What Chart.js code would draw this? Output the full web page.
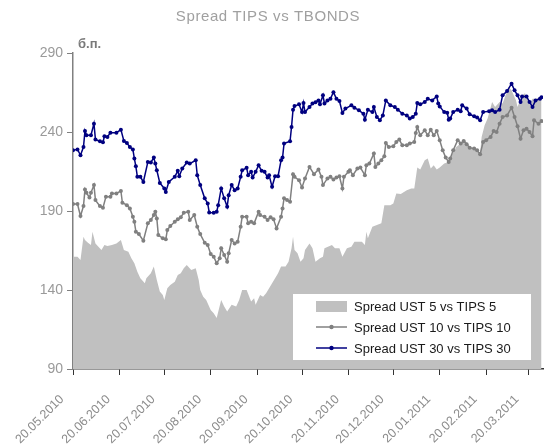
<!DOCTYPE html>
<html lang="ru">
<head>
    <meta charset="UTF-8">
    <title>Spread TIPS vs TBONDS</title>
    <script src="https://cdn.jsdelivr.net/npm/chart.js"></script>
    <style>
        html, body { margin: 0; padding: 0; background: #ffffff; }
        #wrap { width: 547px; height: 446px; position: relative; }
    </style>
</head>
<body>
<div id="wrap"><canvas id="chart"></canvas></div>

<script>
    const chartTitle = 'Spread TIPS vs TBONDS';
    const unitLabel = 'б.п.';
    const seriesNames = ['Spread UST 5 vs TIPS 5', 'Spread UST 10 vs TIPS 10', 'Spread UST 30 vs TIPS 30'];
    const tickLabels = ['20.05.2010', '20.06.2010', '20.07.2010', '20.08.2010', '20.09.2010', '20.10.2010',
                        '20.11.2010', '20.12.2010', '20.01.2011', '20.02.2011', '20.03.2011'];
    const yTicks = [90, 140, 190, 240, 290];

    // x = days since 20.05.2010
    const ust5Days = [0,3,5,6,7,8,10,12,13,15, 17,19,21,23,26,29,32,34,37,39,
        41,43,45,48,49,52,54,56,58,60, 61,63,65,68,70,72,74,76,79,82,
        84,85,87,89,92,94,96,99,101,103, 106,109,111,113,116,119,121,122,125,127,
        129,131,135,137,139,142,144,146,147,148, 150,152,154,155,158,160,162,165,167,168,
        173,175,178,180,183,186,188,193,195,196, 197,200,203,206,208,212,214,216,219,223,
        226,228,230,232,235,237,239,241,243,245, 248,251,253,256,259,262,265,269,272,273,
        275,277,280,282,285,287,289,291,293,296, 297,300,302,305,307,309,313];
    const ust5Values = [161.1,161.1,159,166.4,173.7,171.6,169.9,168.5,176.9,169.5,
        167.4,165.3,168.5,167.8,168.5,169.5,171.6,165.3,164.2,160.1,
        156.9,151.6,147.4,144.3,147.4,150.6,154.8,146.4,139,136.9,
        133.7,141.1,143.2,145.3,149.5,150.6,153.8,155.8,152.7,153.8,
        146.4,140,135.8,133.7,127.4,125.3,122.2,133.7,129.5,126.4,
        130.6,129.5,133.7,140,140,132.7,134.8,130.6,136.9,135.8,
        138,141.1,147.4,150.6,154.8,154.8,157.9,166.4,173.7,165.3,
        163.2,157.9,160.1,165.3,169.5,166.4,157.9,160.1,161.1,166.4,
        168.5,166.4,166.4,161.1,166.4,167.4,170.6,170.6,168.5,176.9,
        172.7,180,181.1,182.2,193.7,193.7,194.8,201.1,200.7,203.2,
        204.3,204.3,217.5,216.3,222.1,223.2,216.9,219,216.3,217.5,
        220,221,225.3,230.5,232.7,234.8,230.5,228.4,226.4,236.9,
        244.2,248.5,259,255.8,259,258,263.2,268.4,266.4,260,
        255.8,263.2,264.6,258,261,261,262];

    const ust10Days = [0,3,5,7,8,9,11,12,14,15, 18,20,22,25,26,29,32,33,36,38,
        40,41,42,44,47,50,52,54,55,56, 57,60,62,63,65,68,70,72,74,77,
        78,81,83,85,88,90,92,94,96,98, 99,101,103,104,106,108,110,112,113,116,
        117,119,121,124,125,128,130,132,134,136, 139,140,141,143,145,147,148,151,153,155,
        158,161,164,166,167,170,172,174,176,178, 180,181,184,185,187,190,192,195,196,198,
        201,202,204,206,208,209,211,214,216,218, 220,223,225,228,229,230,232,235,237,239,
        241,243,245,247,249,251,252,254,257,259, 261,263,265,268,270,272,274,276,279,281,
        283,285,287,290,293,295,297,299,301,303, 305,307,308,311,313];
    const ust10Values = [194.4,194.4,186.8,193.1,203.6,201.5,198.6,201.5,206.4,196.9,
        193.1,192,199,199,201.1,201.1,202.7,195.2,193.7,191.6,
        186.3,183.2,176.9,175.4,171.2,182.2,184.3,187.4,189.5,185.3,
        174.8,172.7,172.1,177.9,180.5,183.2,184.7,186,188.9,189.5,
        184.3,187.4,180,175.4,169.9,168.5,162.8,161.1,156.9,160.1,
        166.4,162.2,157.9,163.2,171.6,169.5,170.6,180,186.3,186.3,
        182.2,183.2,182.2,189.5,187.4,186.3,184.3,186,184.7,179,
        186.3,191.6,198,196.9,195.8,213.3,211.6,209.5,204.9,210.6,
        217.9,213.3,216.3,211.6,206.4,210.6,211.6,210,211.2,212,
        204.3,211.6,214.8,215.8,212.7,216.9,217.5,212.7,219,220,
        226.4,217.9,220,222.1,224.7,233.1,230.5,231,233.7,235.2,
        231.6,231.6,232.7,233.7,239.4,243.2,237.9,241.1,237.9,241.5,
        237.9,240.6,234.8,228.4,223.8,221,223.2,228.4,234.8,232.7,
        234.3,232.2,230.1,229.5,228.4,225.9,233.7,234.8,236.9,240.6,
        240,245.3,249.5,250.5,255.4,249.5,243.6,235.8,241.1,242.1,
        240,237.3,247.4,245.3,246.9];

    const ust30Days = [0,3,5,7,8,9,12,14,15,18, 20,21,23,25,29,32,34,36,38,40,
        41,42,43,45,47,50,52,54,55,56, 58,61,62,64,68,70,71,73,76,78,
        82,83,85,88,90,91,94,96,97,99, 101,103,104,106,108,110,112,113,116,117,
        119,120,122,124,126,128,130,131,133,135, 137,139,140,141,145,146,147,148,151,153,
        154,155,158,160,162,164,165,167,168,170, 172,174,176,178,180,182,186,188,191,194,
        195,197,200,201,203,205,207,209,212,215, 217,220,223,225,227,229,230,232,235,237,
        240,243,244,245,248,250,251,252,254,257, 259,260,263,265,268,270,272,274,278,280,
        282,285,287,290,293,295,297,299,300,303, 305,307,309,312,313];
    const ust30Values = [228.4,229,225.3,230.5,240.6,237.9,238,245.3,235.2,234.1,
        233.5,237.3,236.9,239.6,239.6,241.5,234.3,233,230.5,229,
        223.2,218.3,211.6,211.6,208.4,221,220.7,223.8,220,215.8,
        207.8,204.3,202.1,208.4,211.6,215.4,212,216.9,220.7,220,
        222.1,212.7,206.4,198,194.8,189.1,188.9,189.5,193.7,204.3,
        198,192.7,200,206.4,203.2,204.3,211.6,215.8,217.3,212.7,
        214.8,211.2,214.8,219,215.4,214.8,211.2,212.7,205.3,212,
        212,222.1,223.8,232.7,234.1,243.2,254.1,256.4,257.5,252.6,
        258.3,252.6,255.8,258,258.9,260,257.5,263.2,258,260,
        261,265.2,261,259.6,252,254.8,256.9,255.4,253.7,251.6,
        247.8,254.1,252.6,255.8,249.5,247.4,250.5,260,256.9,255.8,
        254.1,251.6,250.5,248.5,249.5,251.6,258.3,257.5,259,261,
        260,262.5,258,256.2,252.6,252.2,247.8,248.5,252.6,254.1,
        253.2,256.9,254.8,251.2,249.9,249.1,247.4,252.6,253.2,253.7,
        252.6,254.1,263.2,265.9,270.6,266.4,263.2,259,262.5,262.5,
        259,255.8,260,261,262];

    const colors = ['#c0c0c0', '#808080', '#000080'];

    function dayOf(label) {
        const [d, m, y] = label.split('.').map(Number);
        return Math.round((Date.UTC(y, m - 1, d) - Date.UTC(2010, 4, 20)) / 86400000);
    }
    const tickDays = tickLabels.map(dayOf);
    const pts = (days, vals) => days.map((d, i) => ({ x: d, y: vals[i] }));

    // заголовок, "б.п." и легенда внутри графика
    const overlay = {
        id: 'overlay',
        afterDraw(chart) {
            const ctx = chart.ctx;
            ctx.save();
            ctx.fillStyle = '#a0a0a0';
            ctx.font = '15px Arial, "Liberation Sans", sans-serif';
            ctx.textAlign = 'center';
            ctx.textBaseline = 'middle';
            ctx.letterSpacing = '0.6px';
            ctx.fillText(chartTitle, 268, 17);
            ctx.letterSpacing = '0px';

            ctx.fillStyle = '#7a7a7a';
            ctx.font = 'bold 13px Arial, "Liberation Sans", sans-serif';
            ctx.textAlign = 'left';
            ctx.textBaseline = 'alphabetic';
            ctx.fillText(unitLabel, 78, 48);

            // legend box
            ctx.fillStyle = '#ffffff';
            ctx.fillRect(293, 294, 238, 66);
            ctx.font = '13px Arial, "Liberation Sans", sans-serif';
            ctx.textBaseline = 'middle';
            const rows = [306, 327, 348];
            seriesNames.forEach((name, i) => {
                const y = rows[i];
                if (i === 0) {
                    ctx.fillStyle = colors[0];
                    ctx.fillRect(316, y - 5, 31, 11);
                } else {
                    ctx.strokeStyle = colors[i];
                    ctx.lineWidth = 1.5;
                    ctx.beginPath();
                    ctx.moveTo(316, y);
                    ctx.lineTo(347, y);
                    ctx.stroke();
                    ctx.fillStyle = colors[i];
                    ctx.beginPath();
                    ctx.arc(331.5, y, 2.2, 0, Math.PI * 2);
                    ctx.fill();
                }
                ctx.fillStyle = '#1a1a1a';
                ctx.fillText(name, 354, y + 1);
            });
            ctx.restore();
        }
    };

    new Chart(document.getElementById('chart'), {
        type: 'line',
        data: {
            datasets: [
                {
                    label: seriesNames[0],
                    data: pts(ust5Days, ust5Values),
                    borderWidth: 0,
                    borderColor: colors[0],
                    backgroundColor: colors[0],
                    fill: 'start',
                    pointRadius: 0,
                    order: 3
                },
                {
                    label: seriesNames[1],
                    data: pts(ust10Days, ust10Values),
                    borderColor: colors[1],
                    backgroundColor: colors[1],
                    borderWidth: 1.5,
                    pointRadius: 2,
                    pointBorderWidth: 0,
                    fill: false,
                    order: 2
                },
                {
                    label: seriesNames[2],
                    data: pts(ust30Days, ust30Values),
                    borderColor: colors[2],
                    backgroundColor: colors[2],
                    borderWidth: 1.5,
                    pointRadius: 2,
                    pointBorderWidth: 0,
                    fill: false,
                    order: 1
                }
            ]
        },
        options: {
            responsive: true,
            maintainAspectRatio: false,
            animation: false,
            layout: { padding: { top: 53, left: 0, right: 0, bottom: 0 } },
            elements: { line: { tension: 0 } },
            plugins: {
                legend: { display: false },
                title: { display: false },
                tooltip: { enabled: false }
            },
            scales: {
                x: {
                    type: 'linear',
                    min: 0,
                    max: 314,
                    afterBuildTicks: s => { s.ticks = tickDays.map(v => ({ value: v })); },
                    afterFit: s => { s.height = 77; s.paddingLeft = 0; s.paddingRight = 0; },
                    grid: { drawOnChartArea: false, drawTicks: true, tickLength: 6, color: '#333333' },
                    border: { display: true, color: '#333333', width: 1.5 },
                    ticks: {
                        autoSkip: false,
                        minRotation: 45,
                        maxRotation: 45,
                        padding: 17,
                        labelOffset: -11,
                        color: '#8c8c8c',
                        font: { family: 'Arial, "Liberation Sans", sans-serif', size: 12.5 },
                        callback: v => tickLabels[tickDays.indexOf(v)] || ''
                    }
                },
                y: {
                    min: 90,
                    max: 290,
                    afterBuildTicks: s => { s.ticks = yTicks.map(v => ({ value: v })); },
                    afterFit: s => { s.width = 73; },
                    grid: { drawOnChartArea: false, drawTicks: true, tickLength: 6, color: '#808080' },
                    border: { display: true, color: '#808080', width: 1.5 },
                    ticks: {
                        padding: 4,
                        color: '#9a9a9a',
                        font: { family: 'Arial, "Liberation Sans", sans-serif', size: 14 }
                    }
                }
            }
        },
        plugins: [overlay]
    });
</script>
</body>
</html>
